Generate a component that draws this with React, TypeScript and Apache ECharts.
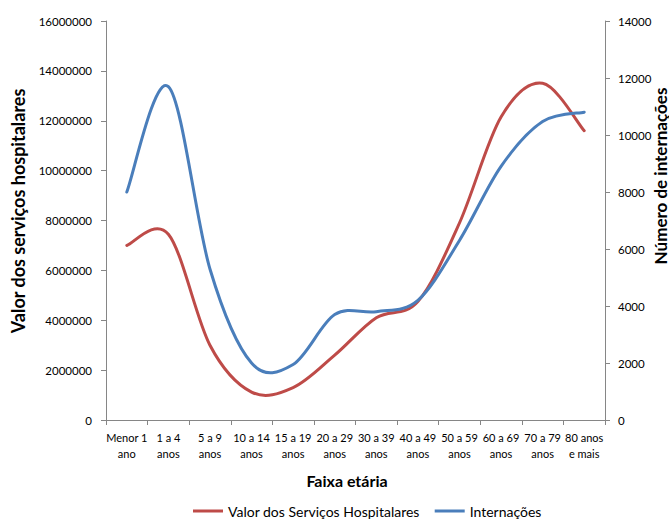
import React, { useEffect, useRef } from "react";
import * as echarts from "echarts";

const categories = [
  "Menor 1\nano",
  "1 a 4\nanos",
  "5 a 9\nanos",
  "10 a 14\nanos",
  "15 a 19\nanos",
  "20 a 29\nanos",
  "30 a 39\nanos",
  "40 a 49\nanos",
  "50 a 59\nanos",
  "60 a 69\nanos",
  "70 a 79\nanos",
  "80 anos\ne mais",
];

const valorServicos = [
  7000000, 7450000, 3000000, 1120000, 1300000, 2600000, 4100000, 4750000,
  7900000, 12150000, 13500000, 11600000,
];

const internacoes = [
  8000, 11700, 5300, 2000, 1950, 3700, 3800, 4200, 6300, 8900, 10470, 10800,
];

const leftTitle = "Valor dos serviços hospitalares";
const rightTitle = "Número de internações";
const xTitle = "Faixa etária";
const seriesNames = ["Valor dos Serviços Hospitalares", "Internações"];

const FONT = "Lato, 'Open Sans', sans-serif";
const RED = "#BE4B48";
const BLUE = "#4A7EBB";
const AXIS = "#868686";

// Line drawn as a smooth (Catmull-Rom / Bezier) curve through the data points,
// with every point positioned by the chart's own axes via api.coord.
function smoothSeries(name: string, values: number[], yAxisIndex: number, color: string) {
  return {
    name,
    type: "custom",
    yAxisIndex,
    data: values.map((v, i) => [i, v]),
    encode: { x: 0, y: 1 },
    clip: false,
    itemStyle: { color },
    renderItem: (params: any, api: any) => {
      if (params.dataIndex !== 0) return null;
      const n = values.length;
      const pts: number[][] = values.map((v, i) => api.coord([i, v]));
      const p = (k: number) => pts[Math.max(0, Math.min(n - 1, k))];
      let d = `M${pts[0][0]} ${pts[0][1]}`;
      for (let i = 0; i < n - 1; i++) {
        const p0 = p(i - 1), p1 = p(i), p2 = p(i + 1), p3 = p(i + 2);
        const c1x = p1[0] + (p2[0] - p0[0]) / 6;
        const c1y = p1[1] + (p2[1] - p0[1]) / 6;
        const c2x = p2[0] - (p3[0] - p1[0]) / 6;
        const c2y = p2[1] - (p3[1] - p1[1]) / 6;
        d += ` C${c1x} ${c1y} ${c2x} ${c2y} ${p2[0]} ${p2[1]}`;
      }
      return {
        type: "path",
        shape: { pathData: d },
        style: { stroke: color, lineWidth: 3, fill: "none", lineJoin: "round", lineCap: "round" },
      };
    },
  };
}

export default function App() {
  const ref = useRef<HTMLDivElement>(null);
  useEffect(() => {
    if (!ref.current) return;
    const chart = echarts.init(ref.current, undefined, { renderer: "svg" });
    chart.setOption({
      animation: false,
      backgroundColor: "#ffffff",
      color: [RED, BLUE],
      textStyle: { fontFamily: FONT },
      grid: { left: 106, right: 64, top: 21, bottom: 102 },
      legend: {
        top: 499,
        left: 188,
        itemWidth: 30,
        itemHeight: 3,
        itemGap: 15,
        icon: "rect",
        textStyle: { fontSize: 14, color: "#000", fontFamily: FONT },
        data: [
          { name: seriesNames[0], itemStyle: { color: RED }, textStyle: { color: "#000" } },
          { name: seriesNames[1], itemStyle: { color: BLUE }, textStyle: { color: "#000" } },
        ],
      },
      xAxis: {
        type: "category",
        data: categories,
        boundaryGap: true,
        axisLine: { lineStyle: { color: AXIS, width: 1 } },
        axisTick: { show: true, length: 5, lineStyle: { color: AXIS } },
        axisLabel: {
          interval: 0,
          fontSize: 11,
          lineHeight: 16,
          color: "#000",
          margin: 9,
          fontFamily: FONT,
        },
        splitLine: { show: false },
      },
      yAxis: [
        {
          type: "value",
          min: 0,
          max: 16000000,
          interval: 2000000,
          position: "left",
          axisLine: { show: true, lineStyle: { color: AXIS } },
          axisTick: { show: true, length: 5, lineStyle: { color: AXIS } },
          axisLabel: {
            fontSize: 11.5,
            color: "#000",
            margin: 14,
            fontFamily: FONT,
            formatter: (v: number) => String(v),
          },
          splitLine: { show: false },
        },
        {
          type: "value",
          min: 0,
          max: 14000,
          interval: 2000,
          position: "right",
          axisLine: { show: true, lineStyle: { color: AXIS } },
          axisTick: { show: true, length: 5, lineStyle: { color: AXIS } },
          axisLabel: {
            fontSize: 11.5,
            color: "#000",
            margin: 13,
            fontFamily: FONT,
            formatter: (v: number) => String(v),
          },
          splitLine: { show: false },
        },
      ],
      series: [
        smoothSeries(seriesNames[0], valorServicos, 0, RED),
        smoothSeries(seriesNames[1], internacoes, 1, BLUE),
      ],
      graphic: [
        {
          type: "text",
          x: 18,
          y: 211,
          rotation: Math.PI / 2,
          style: {
            text: leftTitle,
            fontSize: 18,
            fontWeight: "bold",
            fontFamily: FONT,
            fill: "#000",
            align: "center",
            verticalAlign: "middle",
          },
        },
        {
          type: "text",
          x: 660,
          y: 176,
          rotation: Math.PI / 2,
          style: {
            text: rightTitle,
            fontSize: 17,
            fontWeight: "bold",
            fontFamily: FONT,
            fill: "#000",
            align: "center",
            verticalAlign: "middle",
          },
        },
        {
          type: "text",
          x: 347,
          y: 480,
          style: {
            text: xTitle,
            fontSize: 16,
            fontWeight: "bold",
            fontFamily: FONT,
            fill: "#000",
            align: "center",
            verticalAlign: "middle",
          },
        },
      ],
    });
    return () => chart.dispose();
  }, []);
  return (
    <div
      ref={ref}
      style={{ position: "fixed", left: 0, top: 0, width: 669, height: 522 }}
    />
  );
}
